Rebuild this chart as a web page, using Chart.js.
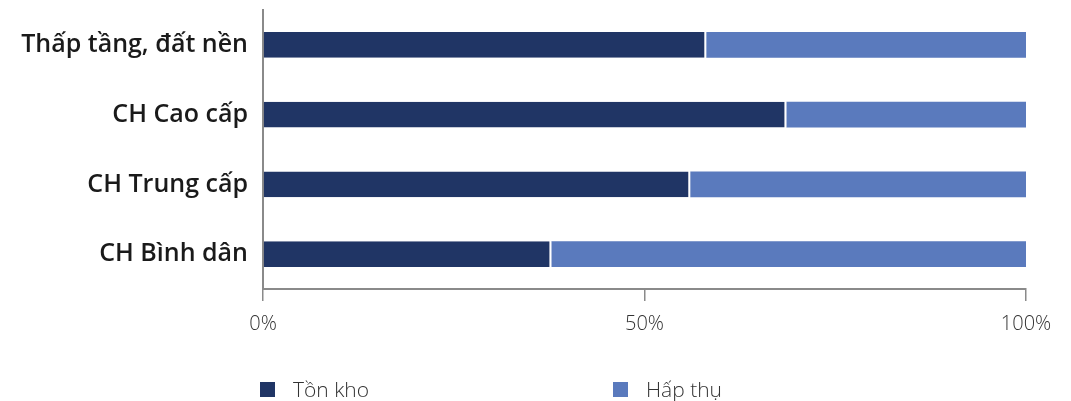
<!DOCTYPE html>
<html>
<head>
<meta charset="utf-8">
<script src="https://cdn.jsdelivr.net/npm/chart.js@4.4.0/dist/chart.umd.min.js"></script>
<style>
  html, body { margin: 0; padding: 0; background: #fff; }
  #wrap { width: 1071px; height: 401px; position: relative; }
</style>
</head>
<body>
<div id="wrap"><canvas id="barChart"></canvas></div>
<script>
const categories = ['Thấp tầng, đất nền', 'CH Cao cấp', 'CH Trung cấp', 'CH Bình dân'];
const tonKho = [58.1, 68.6, 56.0, 37.8];
const hapThu = [41.9, 31.4, 44.0, 62.2];
const tickValues = [0, 50, 100];

const CHART = document.getElementById('barChart');

// legend drawn by hand: the two keys sit far apart under the axis
const spreadLegend = {
  id: 'spreadLegend',
  afterDraw: function(chart) {
    const ctx = chart.ctx;
    const startX = [260, 613];
    ctx.save();
    ctx.font = '300 21px "Open Sans"';
    ctx.textBaseline = 'alphabetic';
    chart.data.datasets.forEach(function(ds, i) {
      ctx.fillStyle = ds.backgroundColor;
      ctx.fillRect(startX[i], 382, 15, 15);
      ctx.fillStyle = '#333333';
      ctx.fillText(ds.label, startX[i] + 33, 397);
    });
    ctx.restore();
  }
};

new Chart(CHART, {
  type: 'bar',
  data: {
    labels: categories,
    datasets: [
      {
        label: 'Tồn kho',
        data: tonKho,
        backgroundColor: '#203565',
        borderColor: '#ffffff',
        borderWidth: { top: 0, bottom: 0, left: 0, right: 2 },
        borderSkipped: false,
        barPercentage: 0.37,
        categoryPercentage: 1
      },
      {
        label: 'Hấp thụ',
        data: hapThu,
        backgroundColor: '#5A7ABD',
        borderWidth: 0,
        barPercentage: 0.37,
        categoryPercentage: 1
      }
    ]
  },
  options: {
    indexAxis: 'y',
    responsive: true,
    maintainAspectRatio: false,
    animation: false,
    layout: { padding: { top: 10, right: 45, left: 0, bottom: 54 } },
    scales: {
      x: {
        stacked: true,
        min: 0,
        max: 100,
        afterBuildTicks: function(scale) {
          scale.ticks = tickValues.map(function(v) { return { value: v }; });
        },
        afterFit: function(scale) {
          scale.paddingLeft = 0;
          scale.paddingRight = 0;
        },
        grid: { drawOnChartArea: false, drawTicks: true, tickLength: 12, color: '#8a8a8a', lineWidth: 1.5 },
        border: { display: true, color: '#8a8a8a', width: 2 },
        ticks: {
          padding: 11,
          color: '#333333',
          font: { family: 'Open Sans', size: 20, weight: '300' },
          callback: function(v) { return v + '%'; },
          maxRotation: 0
        }
      },
      y: {
        stacked: true,
        afterFit: function(scale) {
          scale.width = 263;
          scale.paddingTop = 0;
          scale.paddingBottom = 0;
        },
        grid: { display: false, drawTicks: false },
        border: { display: true, color: '#8a8a8a', width: 2 },
        ticks: {
          padding: 15,
          color: '#1a1a1a',
          font: { family: 'Open Sans', size: 25, weight: '600' }
        }
      }
    },
    plugins: {
      tooltip: { enabled: false },
      legend: { display: false }
    }
  },
  plugins: [spreadLegend]
});
</script>
</body>
</html>
